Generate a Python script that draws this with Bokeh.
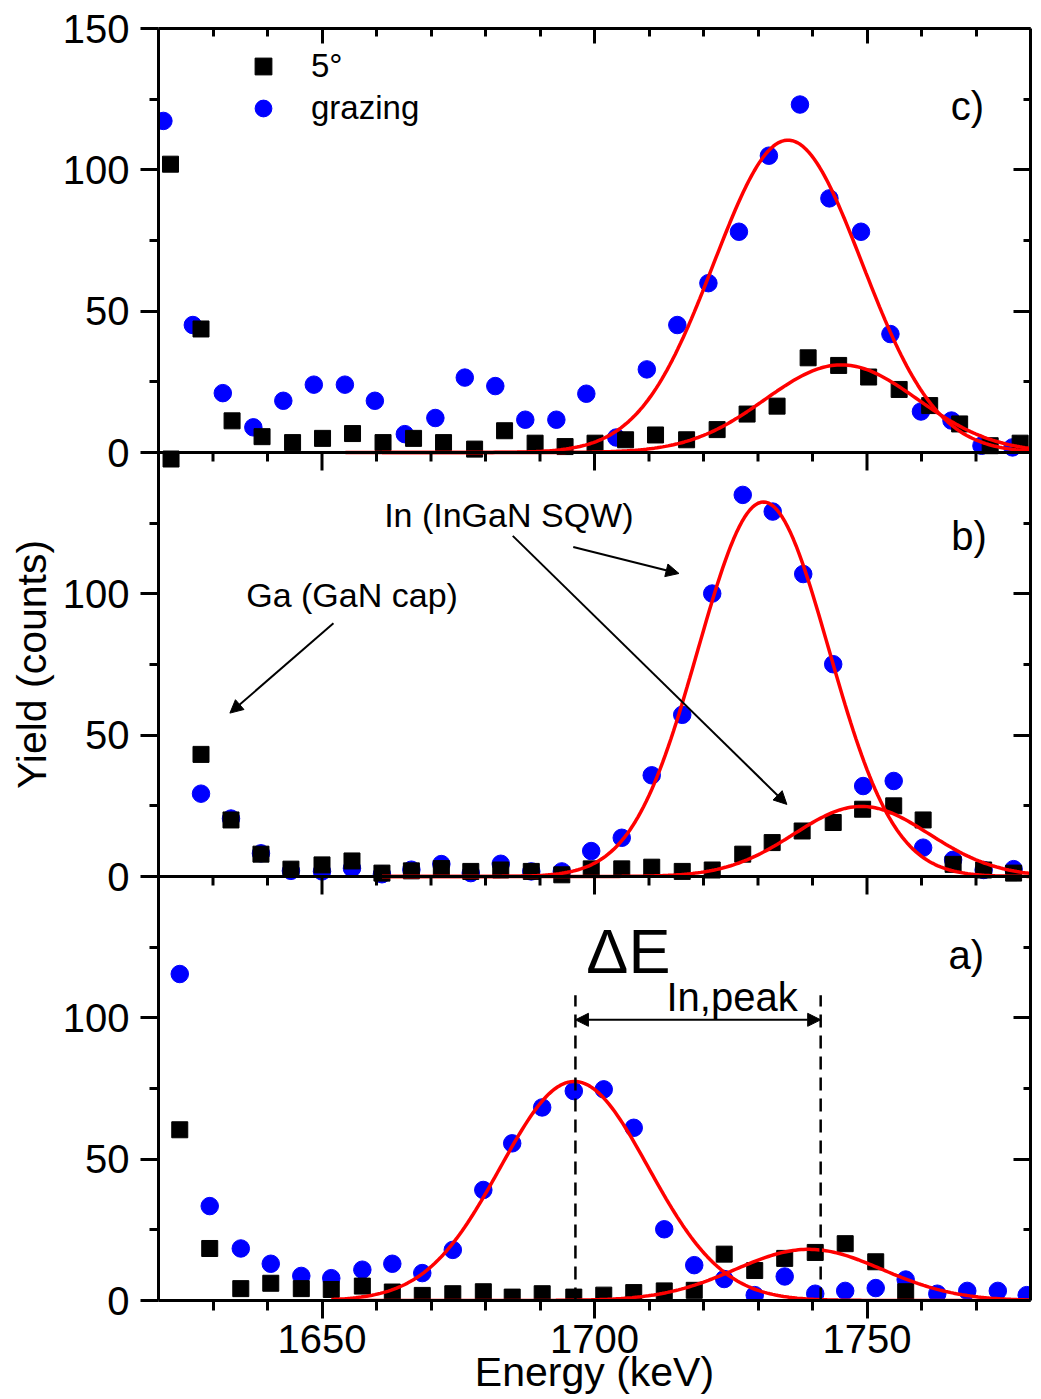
import numpy as np
from bokeh.plotting import figure
from bokeh.models import (Range1d, LinearAxis, FixedTicker, Span, Arrow, NormalHead,
                          Legend, LegendItem, ColumnDataSource)
from bokeh.core.properties import value
from bokeh.embed import file_html
from bokeh.resources import INLINE

FONT = "Liberation Sans"

# ---------------- data ----------------
# panel c) (top)
c_5deg_energy = [1622.2, 1627.8, 1633.5, 1639.0, 1644.6, 1650.1, 1655.6, 1661.2, 1666.8, 1672.3,
                 1678.0, 1683.5, 1689.1, 1694.6, 1700.1, 1705.7, 1711.2, 1716.9, 1722.5, 1728.0,
                 1733.5, 1739.2, 1744.8, 1750.3, 1755.9, 1761.5, 1767.0, 1772.6, 1778.1]
c_5deg_yield = [102, 43.7, 11.2, 5.6, 3.5, 5.0, 6.7, 3.5, 5.0, 3.5,
                1.2, 7.7, 3.3, 2.1, 3.3, 4.5, 6.2, 4.5, 8.1, 13.6,
                16.4, 33.5, 30.8, 26.7, 22.3, 16.6, 10.1, 2.4, 3.3]
c_grazing_energy = [1620.9, 1626.3, 1631.8, 1637.4, 1642.9, 1648.5, 1654.2, 1659.7, 1665.2, 1670.8,
                    1676.2, 1681.8, 1687.3, 1693.0, 1698.5, 1704.0, 1709.6, 1715.2, 1720.9, 1726.5,
                    1732.0, 1737.7, 1743.1, 1748.9, 1754.3, 1759.9, 1765.5, 1771.0, 1776.7]
c_grazing_yield = [117.3, 45.1, 21.0, 8.9, 18.3, 24.0, 24.0, 18.3, 6.5, 12.2,
                   26.5, 23.5, 11.6, 11.6, 20.8, 5.3, 29.4, 45.1, 59.9, 78.1,
                   105.0, 123.1, 89.9, 78.1, 41.9, 14.5, 11.3, 2.4, 1.8]

# panel b) (middle)
b_5deg_energy = [1622.3, 1627.8, 1633.3, 1638.8, 1644.3, 1650.0, 1655.5, 1661.0, 1666.4, 1671.9,
                 1677.3, 1682.8, 1688.4, 1694.0, 1699.4, 1705.0, 1710.5, 1716.1, 1721.6, 1727.2,
                 1732.6, 1738.1, 1743.8, 1749.2, 1754.9, 1760.3, 1765.8, 1771.4, 1776.9]
b_5deg_yield = [147.7, 43.2, 20.0, 7.9, 2.6, 4.1, 5.5, 1.2, 2.0, 2.8,
                1.8, 2.3, 1.8, 0.6, 2.7, 2.7, 3.3, 1.8, 2.3, 7.9,
                12.0, 16.1, 19.1, 23.8, 25.0, 20.0, 4.3, 2.3, 1.2]
b_grazing_energy = [1627.8, 1633.3, 1638.8, 1644.3, 1650.0, 1655.5, 1661.0, 1666.4, 1671.9,
                    1677.3, 1682.8, 1688.4, 1694.0, 1699.4, 1705.0, 1710.5, 1716.1, 1721.6, 1727.2,
                    1732.7, 1738.3, 1743.8, 1749.3, 1754.9, 1760.3, 1765.8, 1771.4, 1776.9]
b_grazing_yield = [29.3, 20.5, 8.2, 2.0, 1.8, 2.9, 0.8, 2.4, 4.4,
                   1.2, 4.5, 1.8, 1.8, 9.0, 13.7, 35.8, 57.2, 100.1, 135.0,
                   129.1, 107.0, 75.1, 32.0, 33.8, 10.2, 5.9, 2.3, 2.6]

# panel a) (bottom)
a_5deg_energy = [1623.9, 1629.4, 1635.1, 1640.6, 1646.2, 1651.7, 1657.4, 1662.9, 1668.4, 1674.0,
                 1679.6, 1684.9, 1690.4, 1696.2, 1701.7, 1707.2, 1712.8, 1718.3, 1723.8, 1729.4,
                 1734.9, 1740.5, 1746.0, 1751.6, 1757.1]
a_5deg_yield = [60.4, 18.4, 4.2, 6.1, 4.2, 3.9, 5.1, 3.0, 1.8, 2.4,
                3.1, 1.2, 2.4, 1.2, 1.9, 2.8, 3.4, 3.6, 16.4, 10.6,
                14.9, 17.0, 20.1, 13.7, 3.1]
a_grazing_energy = [1623.9, 1629.4, 1635.1, 1640.6, 1646.2, 1651.7, 1657.4, 1662.9, 1668.4, 1674.0,
                    1679.6, 1684.9, 1690.4, 1696.2, 1701.7, 1707.2, 1712.8, 1718.3, 1723.8, 1729.4,
                    1734.9, 1740.5, 1746.0, 1751.6, 1757.1, 1762.9, 1768.4, 1774.0, 1779.3]
a_grazing_yield = [115.5, 33.4, 18.4, 13.0, 8.7, 7.9, 10.9, 13.0, 9.7, 17.9,
                   39.1, 55.6, 68.3, 74.1, 74.7, 61.1, 25.2, 12.5, 7.6, 1.9,
                   8.5, 2.4, 3.4, 4.4, 7.4, 2.4, 3.4, 3.4, 1.9]

# Gaussian fits (amplitude, centre keV, sigma keV, first energy of the drawn fit keV)
fit_c_grazing = (110.5, 1735.5, 13.6, 1654.3)
fit_c_5deg = (31.0, 1745.3, 14.0, 1661.0)
fit_b_grazing = (132.5, 1731.0, 12.0, 1661.0)
fit_b_5deg = (24.8, 1749.0, 12.4, 1661.0)
fit_a_grazing = (77.5, 1696.3, 13.6, 1651.7)
fit_a_5deg = (18.1, 1739.3, 13.5, 1657.4)

# axes
x_start, x_end = 1620, 1780
x_major_ticks = [1650, 1700, 1750]
x_minor_ticks = [1630, 1640, 1660, 1670, 1680, 1690, 1710, 1720, 1730, 1740, 1760, 1770]
panel_names = ["c", "b", "a"]            # top to bottom
panel_ymax = 150
y_tick_values = {"c": [0, 50, 100, 150], "b": [0, 50, 100], "a": [0, 50, 100]}
y_tick_labels = {"c": ["0", "50", "100", "150"], "b": ["0", "50", "100"], "a": ["0", "50", "100"]}
y_minor_values = [25, 75, 125]

# annotations
panel_label_text = ["c)", "b)", "a)"]
panel_label_x = [1771.5, 1772.0, 1771.5]
panel_label_y = [117.7, 115.5, 117.2]
legend_labels = ["5\u00b0", "grazing"]
b_text = ["In (InGaN SQW)", "Ga (GaN cap)"]
b_text_x = [1661.4, 1636.1]
b_text_y = [123.7, 95.2]
b_arrow_x0 = [1696.1, 1685.0, 1652.1]
b_arrow_y0 = [116.6, 120.5, 89.6]
b_arrow_x1 = [1715.5, 1735.3, 1633.1]
b_arrow_y1 = [107.2, 25.5, 57.8]
dE_peaks = [1696.5, 1741.5]
dE_top = 108
dE_arrow_y = 99.3
dE_main_text = ("\u0394E", 1698.5, 115.5)
dE_sub_text = ("In,peak", 1713.2, 102.5)


def lift(font_px):
    # screen shift that puts the alphabetic baseline of SVG text on its anchor
    return -round(0.36 * font_px)


# ---------------- figure ----------------
n_panels = len(panel_names)
total = panel_ymax * n_panels
p = figure(width=1041, height=1399, x_range=Range1d(x_start, x_end), y_range=Range1d(0, total),
           x_axis_location=None, y_axis_location=None, toolbar_location=None,
           output_backend="svg", min_border_left=158, min_border_right=11,
           min_border_top=28, min_border_bottom=99)
p.outline_line_color = None
p.background_fill_color = "white"
p.border_fill_color = "white"
for g in p.grid:
    g.visible = False

offsets = {}
for i, name in enumerate(panel_names):
    off = panel_ymax * (n_panels - 1 - i)
    offsets[name] = off
    p.extra_y_ranges[name] = Range1d(-off, total - off)

# combined y ticks for the stacked axes
y_major, y_minor, overrides = [], [], {}
for name in panel_names:
    off = offsets[name]
    for v, lab in zip(y_tick_values[name], y_tick_labels[name]):
        y_major.append(v + off)
        overrides[v + off] = lab
    for v in y_minor_values:
        y_minor.append(v + off)
y_ticker = FixedTicker(ticks=sorted(y_major), minor_ticks=sorted(y_minor))
x_ticker = FixedTicker(ticks=x_major_ticks, minor_ticks=x_minor_ticks)

common = dict(axis_line_width=3, major_tick_line_width=3, minor_tick_line_width=3,
              axis_line_color="black", major_tick_line_color="black",
              minor_tick_line_color="black",
              major_label_text_font=FONT, axis_label_text_font=FONT,
              axis_label_text_font_style="normal", major_label_text_color="black",
              axis_label_text_color="black")

left = LinearAxis(ticker=y_ticker, major_label_overrides=overrides,
                  major_tick_out=18, major_tick_in=0, minor_tick_out=9, minor_tick_in=0,
                  major_label_text_font_size="40px", major_label_standoff=11,
                  axis_label="Yield (counts)", axis_label_text_font_size="41px",
                  axis_label_standoff=5, **common)
right = LinearAxis(ticker=y_ticker, major_tick_out=0, major_tick_in=17, minor_tick_out=0,
                   minor_tick_in=7, major_label_text_font_size="0px",
                   major_label_text_alpha=0, major_label_standoff=0, **common)
bottom = LinearAxis(ticker=x_ticker, major_tick_out=18, major_tick_in=0, minor_tick_out=10,
                    minor_tick_in=0, major_label_text_font_size="40px", major_label_standoff=6,
                    axis_label="Energy (keV)", axis_label_text_font_size="41px",
                    axis_label_standoff=-7, **common)
top = LinearAxis(ticker=x_ticker, major_tick_out=0, major_tick_in=15, minor_tick_out=0,
                 minor_tick_in=8, major_label_text_font_size="0px", major_label_text_alpha=0,
                 major_label_standoff=0, **common)
p.add_layout(left, "left")
p.add_layout(right, "right")
p.add_layout(bottom, "below")
p.add_layout(top, "above")

BLUE = "#0000ff"
RED = "#ff0000"

series = {
    "c": (c_grazing_energy, c_grazing_yield, c_5deg_energy, c_5deg_yield, fit_c_grazing, fit_c_5deg),
    "b": (b_grazing_energy, b_grazing_yield, b_5deg_energy, b_5deg_yield, fit_b_grazing, fit_b_5deg),
    "a": (a_grazing_energy, a_grazing_yield, a_5deg_energy, a_5deg_yield, fit_a_grazing, fit_a_5deg),
}


def gauss_fit(params):
    amp, mu, sig, e0 = params
    e = np.arange(e0, x_end + 0.01, 0.5)
    return e, amp * np.exp(-0.5 * ((e - mu) / sig) ** 2)


legend_renderers = {}
for name in panel_names:
    ge, gy, se, sy, fg, fs = series[name]
    rc = p.scatter(ge, gy, marker="circle", size=17.5, fill_color=BLUE, line_color=BLUE,
                   y_range_name=name)
    rs = p.scatter(se, sy, marker="square", size=16, fill_color="black", line_color="black",
                   y_range_name=name)
    for fp in (fg, fs):
        xe, ye = gauss_fit(fp)
        p.line(xe, ye, line_color=RED, line_width=3.5, y_range_name=name)
    if name == "c":
        legend_renderers = {"5deg": rs, "grazing": rc}

# interior panel boundaries with downward ticks
for name in panel_names[:-1]:
    p.add_layout(Span(location=0, dimension="width", y_range_name=name,
                      line_color="black", line_width=3))
    p.ray(x=x_major_ticks, y=0, length=18, angle=-np.pi / 2, length_units="screen",
          line_color="black", line_width=3, y_range_name=name)
    p.ray(x=x_minor_ticks, y=0, length=9, angle=-np.pi / 2, length_units="screen",
          line_color="black", line_width=3, y_range_name=name)

# panel labels
for name, t, lx, ly in zip(panel_names, panel_label_text, panel_label_x, panel_label_y):
    p.text(x=[lx], y=[ly], text=[t], y_range_name=name, text_font=value(FONT),
           text_font_size="40px", text_align="right", text_baseline="alphabetic",
           text_color="black", y_offset=lift(40))

# panel b annotations
p.text(x=b_text_x, y=b_text_y, text=b_text, y_range_name="b", text_font=value(FONT),
       text_font_size="34px", text_align="left", text_baseline="alphabetic", text_color="black",
       y_offset=lift(34))
arrow_src = ColumnDataSource(dict(x0=b_arrow_x0, y0=b_arrow_y0, x1=b_arrow_x1, y1=b_arrow_y1))
p.add_layout(Arrow(x_start="x0", y_start="y0", x_end="x1", y_end="y1", source=arrow_src,
                   y_range_name="b", line_width=2, line_color="black",
                   end=NormalHead(size=13, fill_color="black", line_color="black")))

# panel a annotations
p.segment(x0=dE_peaks, y0=0, x1=dE_peaks, y1=dE_top, line_color="black", line_width=2.5,
          line_dash="13 8", y_range_name="a")
p.add_layout(Arrow(x_start=dE_peaks[0], y_start=dE_arrow_y, x_end=dE_peaks[1], y_end=dE_arrow_y,
                   y_range_name="a", line_width=2, line_color="black",
                   start=NormalHead(size=13, fill_color="black", line_color="black"),
                   end=NormalHead(size=13, fill_color="black", line_color="black")))
p.text(x=[dE_main_text[1]], y=[dE_main_text[2]], text=[dE_main_text[0]], y_range_name="a",
       text_font=value(FONT), text_font_size="63px", text_align="left",
       text_baseline="alphabetic", text_color="black", y_offset=lift(63))
p.text(x=[dE_sub_text[1]], y=[dE_sub_text[2]], text=[dE_sub_text[0]], y_range_name="a",
       text_font=value(FONT), text_font_size="40px", text_align="left",
       text_baseline="alphabetic", text_color="black", y_offset=lift(40))

legend = Legend(items=[LegendItem(label=legend_labels[0], renderers=[legend_renderers["5deg"]]),
                       LegendItem(label=legend_labels[1], renderers=[legend_renderers["grazing"]])],
                location=(84, 1171), padding=0, spacing=0, margin=0,
                glyph_width=42, glyph_height=42, label_height=42, label_standoff=27,
                label_text_font=FONT, label_text_font_size="33px", label_text_color="black",
                background_fill_alpha=0, border_line_alpha=0)
p.add_layout(legend)

open("out.html", "w").write(file_html(p, INLINE))
